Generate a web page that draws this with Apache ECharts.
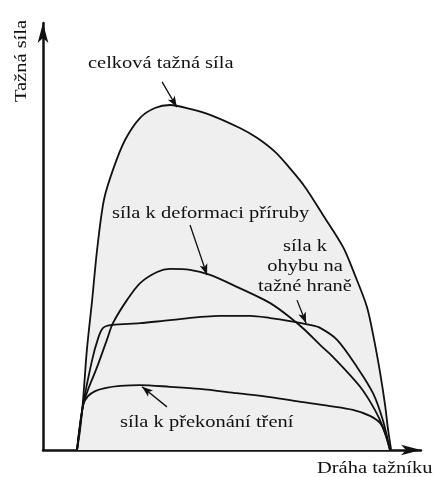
<!DOCTYPE html>
<html>
<head>
<meta charset="utf-8">
<script src="https://cdn.jsdelivr.net/npm/echarts@6/dist/echarts.min.js"></script>
<style>
  html, body { margin: 0; padding: 0; background: #ffffff; }
  #chart { width: 433px; height: 477px; }
</style>
</head>
<body>
<div id="chart"></div>
<script>
// Drawing force versus punch travel (deep drawing), arbitrary units 0–100.

// celková tažná síla (total drawing force)
const totalX = [9.0, 9.8, 10.6, 11.6, 13.0, 14.3, 16.1, 18.5, 21.7, 25.7, 29.6, 33.6, 38.9, 44.2, 52.1, 56.6, 61.4, 65.3, 69.3, 74.1, 79.4, 82.5, 85.7, 87.6, 89.2, 90.5, 91.3, 92.1];
const totalY = [0, 4.7, 11.7, 23.4, 35.1, 46.8, 58.5, 65.6, 72.6, 77.8, 80.1, 80.8, 79.9, 78.5, 75.4, 73.1, 69.8, 66.0, 61.6, 55.0, 47.5, 41.0, 33.5, 25.8, 18.0, 10.5, 4.7, 0];

// síla k deformaci příruby (flange deformation)
const flangeX = [9.0, 10.6, 11.9, 14.3, 16.9, 18.5, 22.2, 25.7, 30.2, 33.6, 38.9, 44.2, 51.3, 60.1, 65.3, 69.3, 73.3, 76.7, 83.9, 87.8, 89.9, 91.8];
const flangeY = [0, 10.5, 14.1, 19.4, 25.8, 29.7, 35.1, 39.1, 41.7, 42.4, 42.2, 41.0, 38.2, 34.4, 31.1, 28.1, 24.6, 21.8, 14.8, 9.4, 5.4, 0];

// síla k ohybu na tažné hraně (bending over the die edge)
const bendX = [9.0, 10.6, 13.0, 14.6, 15.9, 18.3, 25.7, 33.6, 46.8, 54.8, 60.1, 65.3, 70.6, 73.3, 77.8, 83.1, 87.3, 89.9, 91.8];
const bendY = [0, 10.5, 21.1, 26.2, 28.6, 29.3, 29.7, 30.4, 31.4, 31.4, 30.9, 30.2, 29.3, 28.6, 25.8, 19.4, 13.3, 7.0, 0];

// síla k překonání tření (friction)
const frictionX = [9.0, 10.6, 11.9, 13.8, 16.4, 20.4, 25.7, 33.6, 41.5, 51.3, 60.1, 68.8, 75.9, 82.0, 86.5, 89.2, 90.7, 91.8];
const frictionY = [0, 10.5, 12.6, 13.8, 14.5, 15.0, 15.2, 14.8, 14.3, 13.3, 12.4, 11.2, 10.3, 9.4, 8.0, 6.3, 3.5, 0];

// pointer arrows: [fromX, fromY, toX, toY]
const totalPointer = [31.5, 86.2, 35.4, 80.3];
const flangePointer = [38.9, 52.7, 43.4, 41.0];
const bendPointer = [67.2, 35.1, 69.6, 29.7];
const frictionPointer = [32.8, 10.1, 26.2, 14.8];

// texts
const yAxisTitle = 'Tažná síla';
const xAxisTitle = 'Dráha tažníku';
const totalLabel = 'celková tažná síla';
const flangeLabel = 'síla k deformaci příruby';
const bendLabelLines = ['síla k', 'ohybu na', 'tažné hraně'];
const frictionLabel = 'síla k překonání tření';

const zip = (xs, ys) => xs.map((x, i) => [x, ys[i]]);
const INK = '#111111';
const STRETCH = 1.17;

function pointer(p) {
  return {
    silent: true,
    symbol: ['none', 'arrow'],
    symbolSize: [6, 11],
    label: { show: false },
    lineStyle: { color: INK, width: 1.3, type: 'solid' },
    emphasis: { disabled: true },
    data: [[{ coord: [p[0], p[1]] }, { coord: [p[2], p[3]] }]]
  };
}

function curve(name, xs, ys, p, extra) {
  return Object.assign({
    name: name,
    type: 'line',
    data: zip(xs, ys),
    smooth: 0.3,
    showSymbol: false,
    symbol: 'none',
    silent: true,
    lineStyle: { color: INK, width: 1.8 },
    markLine: pointer(p)
  }, extra || {});
}

function label(text, x, y, align, rotation) {
  return {
    type: 'text',
    x: x, y: y,
    scaleX: STRETCH,
    rotation: rotation || 0,
    silent: true,
    z: 100,
    style: {
      text: text, x: 0, y: 0,
      fontSize: 17.5,
      fontFamily: 'Liberation Serif',
      fill: INK,
      textAlign: align, textVerticalAlign: 'middle'
    }
  };
}

const axisBase = {
  type: 'value',
  min: 0,
  max: 100,
  axisLine: {
    show: true,
    symbol: ['none', 'arrow'],
    symbolSize: [8, 20],
    lineStyle: { color: INK, width: 2.5 }
  },
  axisTick: { show: false },
  axisLabel: { show: false },
  splitLine: { show: false }
};

const chart = echarts.init(document.getElementById('chart'), null, { renderer: 'canvas' });
chart.setOption({
  animation: false,
  backgroundColor: '#ffffff',
  grid: { left: 43, right: 12, top: 23, bottom: 27 },
  xAxis: Object.assign({}, axisBase),
  yAxis: Object.assign({}, axisBase),
  series: [
    curve(totalLabel, totalX, totalY, totalPointer, {
      areaStyle: { color: '#efefef', opacity: 1 },
      z: 1
    }),
    curve(flangeLabel, flangeX, flangeY, flangePointer, { z: 3 }),
    curve(bendLabelLines.join(' '), bendX, bendY, bendPointer, { z: 3 }),
    curve(frictionLabel, frictionX, frictionY, frictionPointer, { z: 3 })
  ],
  graphic: [
    label(yAxisTitle, 21, 61, 'center', Math.PI / 2),
    label(xAxisTitle, 317, 468, 'left'),
    label(totalLabel, 88, 63, 'left'),
    label(flangeLabel, 112, 213, 'left'),
    label(bendLabelLines[0], 305, 246, 'center'),
    label(bendLabelLines[1], 305, 266, 'center'),
    label(bendLabelLines[2], 305, 286, 'center'),
    label(frictionLabel, 120, 422, 'left')
  ]
});
</script>
</body>
</html>
